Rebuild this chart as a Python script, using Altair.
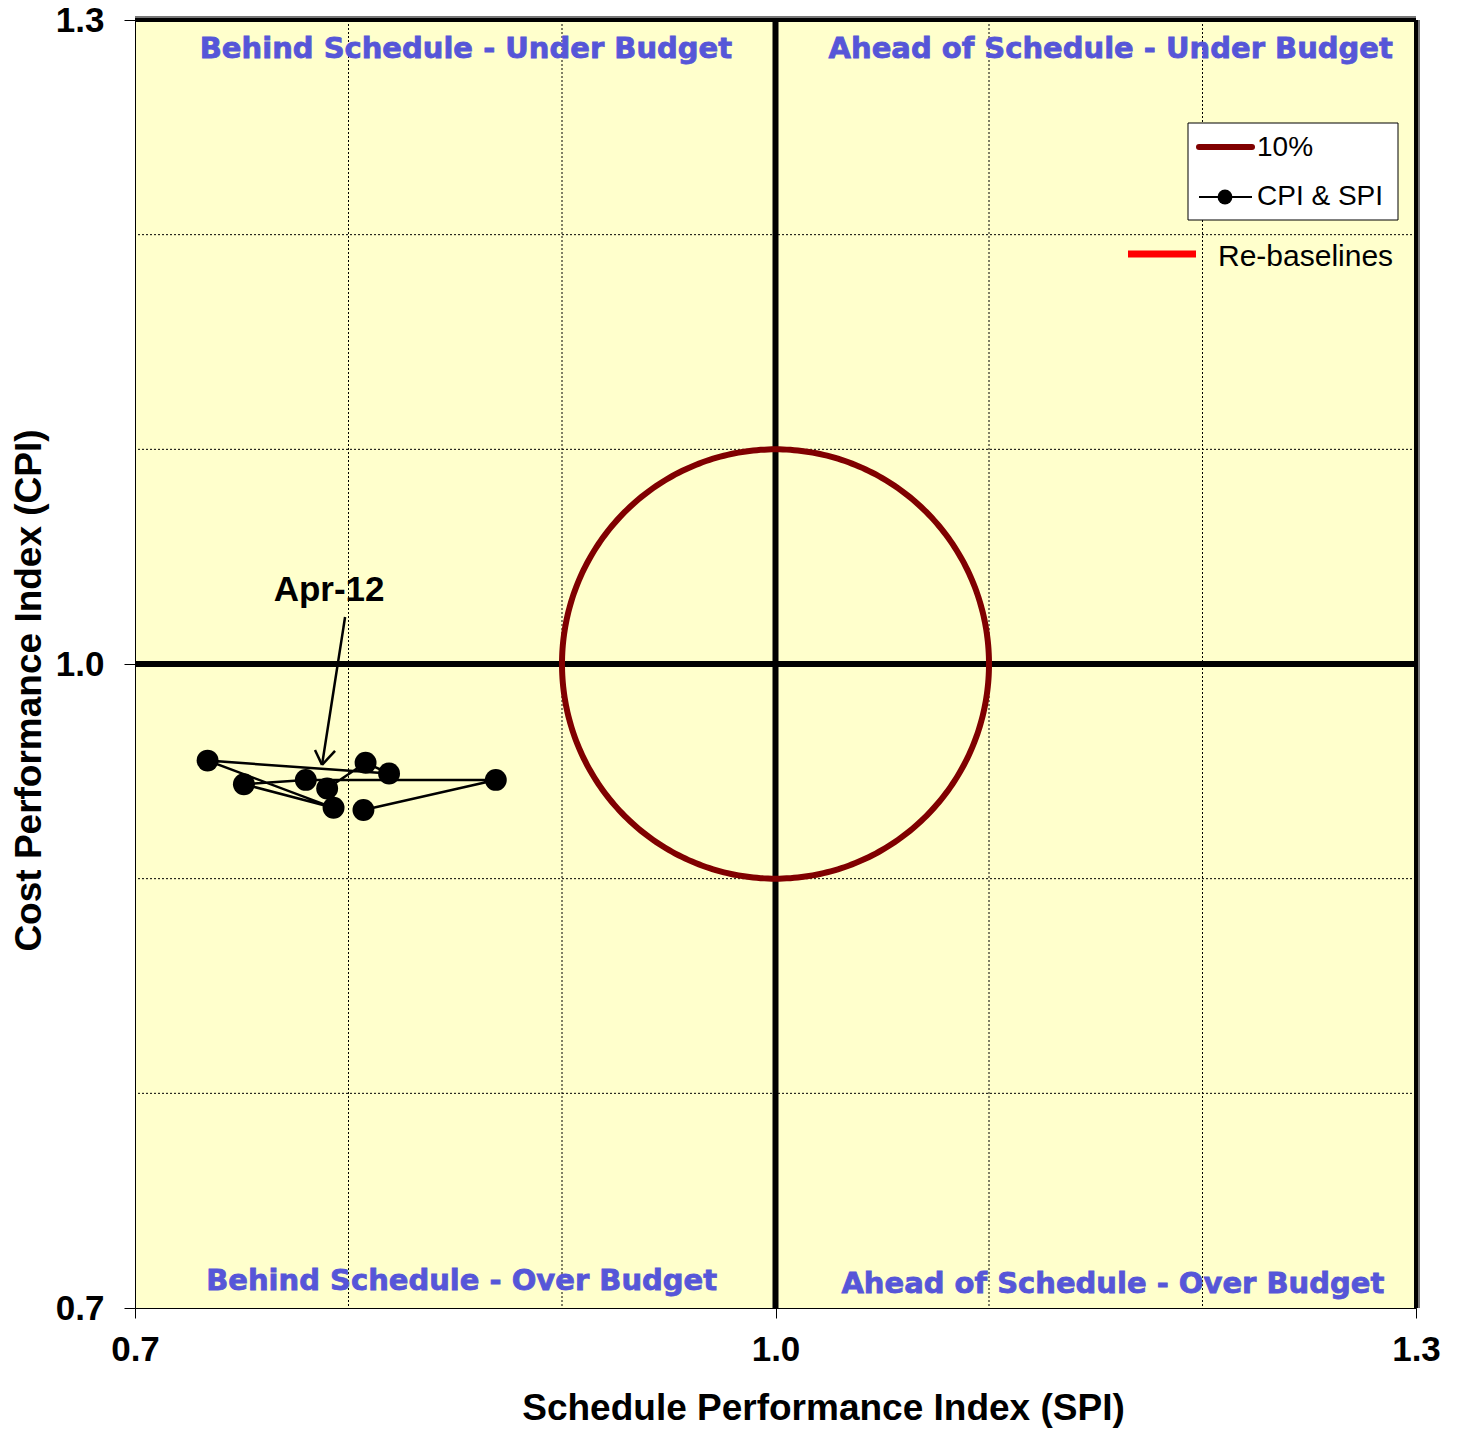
import altair as alt
import pandas as pd
import numpy as np

# ---- data ----
spi = [0.807, 0.869, 0.780, 0.751, 0.793, 0.734, 0.819, 0.808, 0.790]
cpi = [0.932, 0.946, 0.946, 0.944, 0.933, 0.955, 0.949, 0.954, 0.942]
seq = [1, 2, 3, 4, 5, 6, 7, 8, 9]

axis_vals = [0.7, 1.0, 1.3]
grid_vals = [0.8, 0.9, 1.1, 1.2]
threshold = 0.10

quad_labels = ["Behind Schedule - Under Budget", "Ahead of Schedule - Under Budget",
               "Behind Schedule - Over Budget", "Ahead of Schedule - Over Budget"]
quad_x = [0.855, 1.157, 0.853, 1.158]
quad_y = [1.2865, 1.2865, 0.7127, 0.7113]

annot_text = "Apr-12"
annot_pos = (0.7909, 1.0345)
arrow_x = [0.7984, 0.7876, 0.7843, 0.7876, 0.7937, 0.7876]
arrow_y = [1.0219, 0.9530, 0.9599, 0.9530, 0.9595, 0.9530]
arrow_grp = [0, 0, 1, 1, 2, 2]

W, H = 1281, 1288
FONT = "Liberation Sans"

xscale = alt.Scale(domain=[0.7, 1.3], nice=False, zero=False)
yscale = alt.Scale(domain=[0.7, 1.3], nice=False, zero=False)

xaxis = alt.Axis(values=axis_vals, format=".1f", grid=False, domain=False,
                 tickSize=10, tickColor="black", tickWidth=1,
                 labelFont=FONT, labelFontSize=35, labelFontWeight="bold",
                 labelColor="black", labelPadding=14, labelFlush=False,
                 title="Schedule Performance Index (SPI)", titleFont=FONT,
                 titleFontSize=37, titleFontWeight="bold", titleColor="black",
                 titleX=688, titleY=111, titleBaseline="alphabetic")
yaxis = alt.Axis(values=axis_vals, format=".1f", grid=False, domain=False,
                 tickSize=11, tickColor="black", tickWidth=1,
                 labelFont=FONT, labelFontSize=35, labelFontWeight="bold",
                 labelColor="black", labelPadding=20, labelFlush=False,
                 title="Cost Performance Index (CPI)", titleFont=FONT,
                 titleFontSize=37, titleFontWeight="bold", titleColor="black",
                 titleAngle=-90, titleX=-95, titleY=670, titleBaseline="alphabetic",
                 titleAlign="center")


def X(field="x"):
    return alt.X(f"{field}:Q", scale=xscale, axis=xaxis)


def Y(field="y"):
    return alt.Y(f"{field}:Q", scale=yscale, axis=yaxis)


# grid lines
grid_x = alt.Chart(pd.DataFrame({"x": grid_vals})).mark_rule(
    color="black", strokeWidth=1, strokeDash=[2, 2]).encode(x=X())
grid_y = alt.Chart(pd.DataFrame({"y": grid_vals})).mark_rule(
    color="black", strokeWidth=1, strokeDash=[2, 2]).encode(y=Y())

# thick centre lines
center_x = alt.Chart(pd.DataFrame({"x": [1.0]})).mark_rule(
    color="black", strokeWidth=6).encode(x=X())
center_y = alt.Chart(pd.DataFrame({"y": [1.0]})).mark_rule(
    color="black", strokeWidth=6).encode(y=Y())

# 10% circle
t = np.linspace(0, 2 * np.pi, 361)
circ = pd.DataFrame({"x": 1.0 + threshold * np.cos(t),
                     "y": 1.0 + threshold * np.sin(t),
                     "o": np.arange(len(t))})
circle = alt.Chart(circ).mark_line(color="#800000", strokeWidth=6).encode(
    x=X(), y=Y(), order="o:Q")

# data series
df = pd.DataFrame({"x": spi, "y": cpi, "o": seq})
path = alt.Chart(df).mark_line(color="black", strokeWidth=2.5).encode(
    x=X(), y=Y(), order="o:Q")
pts = alt.Chart(df).mark_point(filled=True, color="black", size=480, opacity=1).encode(
    x=X(), y=Y())

# quadrant labels
qdf = pd.DataFrame({"x": quad_x, "y": quad_y, "t": quad_labels})
quads = alt.Chart(qdf).mark_text(font="DejaVu Sans", fontWeight="bold", fontSize=29,
                                 color="#5656D8", align="center", baseline="middle",
                                 stroke="#5656D8", strokeWidth=0.8).encode(
    x=X(), y=Y(), text="t:N")

# annotation
adf = pd.DataFrame({"x": arrow_x, "y": arrow_y, "g": arrow_grp})
arrow = alt.Chart(adf).mark_line(color="black", strokeWidth=2.5).encode(
    x=X(), y=Y(), detail="g:N")
atext = alt.Chart(pd.DataFrame({"x": [annot_pos[0]], "y": [annot_pos[1]], "t": [annot_text]})).mark_text(
    font=FONT, fontWeight="bold", fontSize=35, color="black", align="center",
    baseline="middle").encode(x=X(), y=Y(), text="t:N")

# borders (top / right thick)
top_b = alt.Chart(pd.DataFrame({"y": [1.3]})).mark_rule(color="black", strokeWidth=4).encode(y=Y())
right_b = alt.Chart(pd.DataFrame({"x": [1.3]})).mark_rule(color="black", strokeWidth=4).encode(x=X())
top_s = alt.Chart(pd.DataFrame({"y": [1.3]})).mark_rule(color="#777777", strokeWidth=2, yOffset=-3).encode(y=Y())
right_s = alt.Chart(pd.DataFrame({"x": [1.3]})).mark_rule(color="#777777", strokeWidth=2, xOffset=3).encode(x=X())

# manual legend (pixel positions inside plot area)
one = pd.DataFrame({"a": [0]})
leg_box = alt.Chart(one).mark_rect(fill="white", stroke="black", strokeWidth=1).encode(
    x=alt.value(1053), x2=alt.value(1263), y=alt.value(103), y2=alt.value(200))
leg_l1 = alt.Chart(one).mark_rule(color="#800000", strokeWidth=6, strokeCap="round").encode(
    x=alt.value(1064), x2=alt.value(1117), y=alt.value(127))
leg_t1 = alt.Chart(one).mark_text(font=FONT, fontSize=28, color="black", align="left",
                                  baseline="middle", text="10%").encode(
    x=alt.value(1122), y=alt.value(128))
leg_l2 = alt.Chart(one).mark_rule(color="black", strokeWidth=2).encode(
    x=alt.value(1064), x2=alt.value(1117), y=alt.value(177))
leg_p2 = alt.Chart(one).mark_point(filled=True, color="black", size=220, opacity=1).encode(
    x=alt.value(1090), y=alt.value(177))
leg_t2 = alt.Chart(one).mark_text(font=FONT, fontSize=28, color="black", align="left",
                                  baseline="middle", text="CPI & SPI").encode(
    x=alt.value(1122), y=alt.value(177))
leg_l3 = alt.Chart(one).mark_rule(color="#FF0000", strokeWidth=7).encode(
    x=alt.value(993), x2=alt.value(1061), y=alt.value(234))
leg_t3 = alt.Chart(one).mark_text(font=FONT, fontSize=30, color="black", align="left",
                                  baseline="middle", text="Re-baselines").encode(
    x=alt.value(1083), y=alt.value(237))

chart = alt.layer(
    grid_x, grid_y, center_x, center_y, circle, path, pts, quads, arrow, atext,
    leg_box, leg_l1, leg_t1, leg_l2, leg_p2, leg_t2, leg_l3, leg_t3,
    top_s, right_s, top_b, right_b,
).properties(
    width=W, height=H,
    autosize=alt.AutoSizeParams(type="none"),
    padding={"left": 127, "top": 12, "right": 30, "bottom": 122},
    background="white",
).configure_view(fill="#FFFFCC", stroke="black", strokeWidth=1)

chart.save("out.html", embed_options={"renderer": "svg", "actions": False})
